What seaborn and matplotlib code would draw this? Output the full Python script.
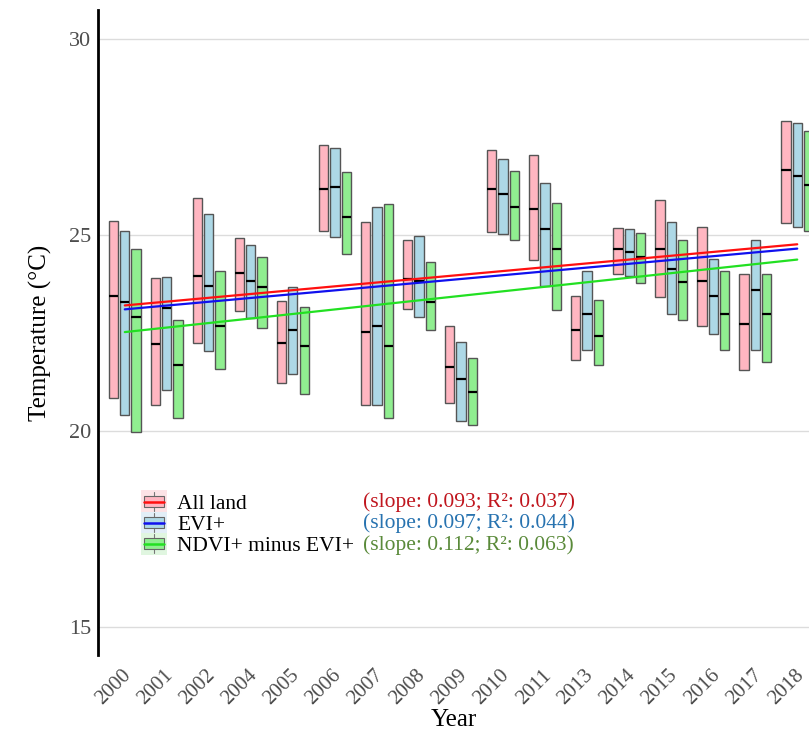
import numpy as np
import pandas as pd
import matplotlib
matplotlib.use('Agg')
import matplotlib.pyplot as plt
import matplotlib.transforms as mtrans
from matplotlib.patches import Rectangle, Patch
from matplotlib.lines import Line2D
from matplotlib.legend_handler import HandlerBase
import seaborn as sns

# anos (2003 e 2012 ausentes no original)
years = ['2000', '2001', '2002', '2004', '2005', '2006', '2007', '2008', '2009',
         '2010', '2011', '2013', '2014', '2015', '2016', '2017', '2018']

# All land: mínimo, mediana, máximo
all_low = [20.84, 20.66, 22.24, 23.08, 21.22, 25.12, 20.68, 23.11, 20.71,
           25.09, 24.36, 21.83, 24.02, 23.43, 22.69, 21.57, 25.31]
all_mid = [23.44, 22.23, 23.97, 24.03, 22.25, 26.17, 22.52, 23.89, 21.63,
           26.17, 25.66, 22.58, 24.66, 24.66, 23.83, 22.74, 26.66]
all_high = [25.36, 23.90, 25.96, 24.94, 23.33, 27.30, 25.34, 24.89, 22.69,
            27.18, 27.04, 23.45, 25.18, 25.91, 25.20, 24.02, 27.91]

# EVI+
evi_low = [20.41, 21.06, 22.04, 22.90, 21.45, 24.95, 20.68, 22.92, 20.26,
           25.02, 23.71, 22.08, 23.96, 22.98, 22.47, 22.08, 25.21]
evi_mid = [23.30, 23.15, 23.70, 23.83, 22.58, 26.24, 22.68, 23.83, 21.33,
           26.06, 25.16, 22.99, 24.57, 24.15, 23.44, 23.61, 26.51]
evi_high = [25.11, 23.93, 25.54, 24.74, 23.67, 27.22, 25.71, 24.97, 22.27,
            26.95, 26.33, 24.10, 25.15, 25.34, 24.40, 24.89, 27.87]

# NDVI+ minus EVI+
ndvi_low = [19.98, 20.35, 21.59, 22.64, 20.94, 24.52, 20.35, 22.58, 20.15,
            24.87, 23.09, 21.68, 23.79, 22.83, 22.08, 21.76, 25.10]
ndvi_mid = [22.91, 21.68, 22.68, 23.67, 22.17, 25.47, 22.17, 23.30, 21.01,
            25.73, 24.64, 22.43, 24.45, 23.81, 22.99, 22.99, 26.29]
ndvi_high = [24.64, 22.85, 24.10, 24.44, 23.16, 26.61, 25.79, 24.33, 21.87,
             26.64, 25.82, 23.34, 25.06, 24.89, 24.10, 24.00, 27.65]

groups = ['All land', 'EVI+', 'NDVI+ minus EVI+']
# valores da reta de tendência no primeiro e no último ano
trend_start = [23.21, 23.11, 22.53]
trend_end = [24.77, 24.66, 24.38]
slope_txt = ['(slope: 0.093; R\u00b2: 0.037)',
             '(slope: 0.097; R\u00b2: 0.044)',
             '(slope: 0.112; R\u00b2: 0.063)']

box_cores = ['#FFB6C1', '#ADD8E6', '#90EE90']
linha_cores = ['#FF1010', '#1010EE', '#22E022']
bg_cores = ['#FCE3E6', '#E2EEF7', '#E0F6E0']
txt_cores = ['#C0161E', '#2873B0', '#5A8A3A']

# monta tabela longa: 5 pontos por caixa -> Q1 = mínimo, mediana, Q3 = máximo
linhas = []
series = [(all_low, all_mid, all_high), (evi_low, evi_mid, evi_high),
          (ndvi_low, ndvi_mid, ndvi_high)]
for g, (lo, mi, hi) in zip(groups, series):
    for i, ano in enumerate(years):
        for v in (lo[i], lo[i], mi[i], hi[i], hi[i]):
            linhas.append({'Year': ano, 'grupo': g, 'temp': v})
df = pd.DataFrame(linhas)

sns.set_theme(style='white')
plt.rcParams['font.family'] = ['Liberation Serif', 'DejaVu Serif']

fig = plt.figure(figsize=(8.09, 7.36), dpi=100)
ax = fig.add_axes([0.121, 0.110, 0.879, 0.876])

sns.boxplot(data=df, x='Year', y='temp', hue='grupo', order=years,
            hue_order=groups, palette=dict(zip(groups, box_cores)),
            width=0.8, gap=0.18, whis=1.5, showcaps=False, showfliers=False,
            linewidth=1, linecolor='#555555', saturation=1,
            medianprops={'color': 'black', 'linewidth': 1.6},
            legend=False, ax=ax)

# retas de tendência
x_ends = [years.index('2000'), years.index('2018')]
for k in range(3):
    sns.lineplot(x=x_ends, y=[trend_start[k], trend_end[k]], color=linha_cores[k],
                 linewidth=1.6, ax=ax, zorder=5)

ax.set_xlim(-0.64, 16.28)
ax.set_ylim(14.29, 30.74)
ax.set_yticks([15, 20, 25, 30])
ax.yaxis.grid(True, color='#DCDCDC', linewidth=1)
ax.xaxis.grid(False)
ax.set_axisbelow(True)
for s in ['top', 'right', 'bottom']:
    ax.spines[s].set_visible(False)
ax.spines['left'].set_color('black')
ax.spines['left'].set_linewidth(2)
ax.tick_params(axis='y', length=0, labelsize=16, colors='#4D4D4D', pad=5)
ax.tick_params(axis='x', length=0, labelsize=15, colors='#4D4D4D', pad=8)
ax.set_xticks(range(len(years)))
ax.set_xticklabels(years, rotation=45, ha='right', rotation_mode='anchor')
# desloca os rótulos do eixo x um pouco para a esquerda
desloc = mtrans.ScaledTranslation(-3 / 100, 0, fig.dpi_scale_trans)
for lab in ax.get_xticklabels():
    lab.set_transform(lab.get_transform() + desloc)
ax.set_xlabel('Year', fontsize=18, color='black', labelpad=0)
ax.set_ylabel('Temperature (\u00b0C)', fontsize=18, color='black', labelpad=12)


class ChaveBox(HandlerBase):
    # desenha a chave da legenda: fundo claro, bigode, caixa e mediana colorida
    def __init__(self, fill, bg, med):
        super().__init__()
        self.fill, self.bg, self.med = fill, bg, med

    def create_artists(self, legend, orig_handle, xdescent, ydescent,
                       width, height, fontsize, trans):
        x0, y0 = -xdescent, -ydescent
        cx, cy = x0 + width / 2, y0 + height / 2
        fundo = Rectangle((x0, cy - 8.0), width, 16.0, facecolor=self.bg,
                          edgecolor='none', transform=trans)
        bigode = Line2D([cx, cx], [cy - 7, cy + 7], color='#777777', lw=0.8,
                        transform=trans)
        bw = width * 0.76
        caixa = Rectangle((cx - bw / 2, cy - 3.8), bw, 7.6, facecolor=self.fill,
                          edgecolor='#666666', lw=0.8, transform=trans)
        mediana = Line2D([cx - bw / 2, cx + bw / 2], [cy, cy], color=self.med,
                         lw=1.8, transform=trans)
        return [fundo, bigode, caixa, mediana]


handles = [Patch(label=g) for g in groups]
hmap = {h: ChaveBox(box_cores[k], bg_cores[k], linha_cores[k])
        for k, h in enumerate(handles)}
fig.legend(handles=handles, labels=groups, handler_map=hmap,
           loc='upper left', bbox_to_anchor=(141 / 809, 1 - 493 / 736),
           frameon=False, fontsize=15.5, labelcolor='black',
           handlelength=1.22, handleheight=0.85,
           handletextpad=0.45, labelspacing=0.0, borderpad=0, borderaxespad=0)

for k in range(3):
    fig.text(363 / 809, 1 - (502 + 21.5 * k) / 736, slope_txt[k],
             color=txt_cores[k], fontsize=15.5, ha='left', va='center')

fig.savefig('out.png', dpi=100)
